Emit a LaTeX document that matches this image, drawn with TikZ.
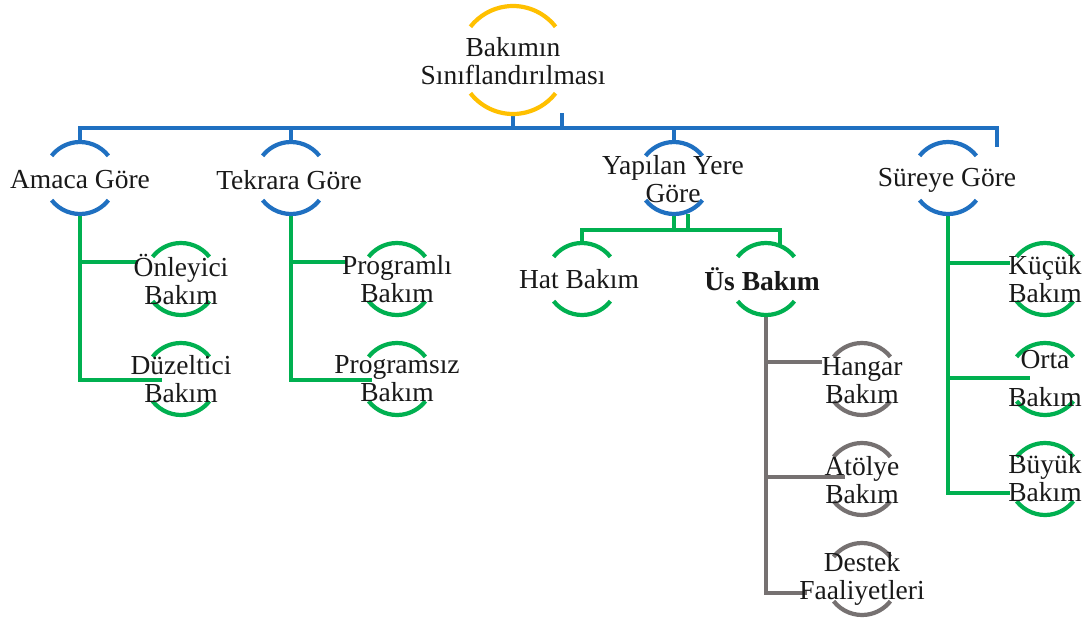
\documentclass[tikz,border=0pt]{standalone}
\usepackage{fontspec}
\setmainfont{Liberation Serif}
\definecolor{cblue}{HTML}{1F70C1}
\definecolor{cgreen}{HTML}{00B050}
\definecolor{cyellow}{HTML}{FFC000}
\definecolor{cgray}{HTML}{767171}
\newcommand\ringarcs[3]{%
  \draw[line width=4.2pt,draw=#2] (#1.38) arc[start angle=38,end angle=142,radius=#3];
  \draw[line width=4.2pt,draw=#2] (#1.218) arc[start angle=218,end angle=322,radius=#3];}
\begin{document}
\begin{tikzpicture}[x=1pt,y=1pt,
  ring/.style={circle, minimum size=#1, inner sep=0pt, outer sep=0pt},
  lbl/.style={align=center, inner sep=0pt, font=\fontsize{27.5}{28}\selectfont, text=black!90},
  wire/.style={line width=4.6pt, draw=#1}]
\useasboundingbox[fill=white] (0,0) rectangle (1091,-621);

% ring placeholders
\node[ring=108pt] (root) at (513,-60) {};
\node[ring=72pt] (amaca) at (80,-178) {};
\node[ring=72pt] (tekrara) at (291,-178) {};
\node[ring=72pt] (yapilan) at (674,-178) {};
\node[ring=72pt] (sure) at (948,-178) {};
\node[ring=72pt] (onl) at (181,-279) {};
\node[ring=72pt] (duz) at (181,-379) {};
\node[ring=72pt] (prg) at (397,-279) {};
\node[ring=72pt] (prs) at (397,-379) {};
\node[ring=72pt] (hat) at (582,-279) {};
\node[ring=72pt] (us) at (766,-279) {};
\node[ring=72pt] (kuc) at (1045,-279) {};
\node[ring=72pt] (orta) at (1045,-379) {};
\node[ring=72pt] (buy) at (1045,-479) {};
\node[ring=72pt] (hng) at (862,-379) {};
\node[ring=72pt] (atl) at (862,-479) {};
\node[ring=72pt] (dst) at (862,-579) {};

% coordinates
\coordinate (busR) at (997,-128);
\coordinate (busRend) at (997,-147);
\coordinate (rootstub) at (562,-113);
\coordinate (a1) at (138,-262);
\coordinate (a2) at (162,-380);
\coordinate (t1) at (347,-262);
\coordinate (t2) at (372,-380);
\coordinate (gbR) at (780,-230);
\coordinate (ystub) at (688,-214);
\coordinate (usTop) at (780,-246);
\coordinate (g1) at (822,-362);
\coordinate (g2) at (845,-477);
\coordinate (g3) at (807,-593);
\coordinate (s1) at (1010,-263);
\coordinate (s2) at (1030,-378);
\coordinate (s3) at (1010,-493);

% blue connectors
\draw[wire=cblue] (amaca.north) |- (busR) -- (busRend);
\draw[wire=cblue] (tekrara.north) -- (tekrara.north |- busR);
\draw[wire=cblue] (yapilan.north) -- (yapilan.north |- busR);
\draw[wire=cblue] (root.south) -- (root.south |- busR);
\draw[wire=cblue] (rootstub) -- (rootstub |- busR);

% green connectors
\draw[wire=cgreen] (amaca.south) |- (a2);
\draw[wire=cgreen] (amaca.south |- a1) -- (a1);
\draw[wire=cgreen] (tekrara.south) |- (t2);
\draw[wire=cgreen] (tekrara.south |- t1) -- (t1);
\draw[wire=cgreen] (yapilan.south) -- (yapilan.south |- gbR);
\draw[wire=cgreen] (ystub) -- (ystub |- gbR);
\draw[wire=cgreen] (hat.north) |- (gbR) -- (usTop);
\draw[wire=cgreen] (sure.south) |- (s3);
\draw[wire=cgreen] (sure.south |- s1) -- (s1);
\draw[wire=cgreen] (sure.south |- s2) -- (s2);

% gray connectors
\draw[wire=cgray] (us.south) |- (g3);
\draw[wire=cgray] (us.south |- g1) -- (g1);
\draw[wire=cgray] (us.south |- g2) -- (g2);

% arcs
\ringarcs{root}{cyellow}{54pt}
\ringarcs{amaca}{cblue}{36pt}
\ringarcs{tekrara}{cblue}{36pt}
\ringarcs{yapilan}{cblue}{36pt}
\ringarcs{sure}{cblue}{36pt}
\ringarcs{onl}{cgreen}{36pt}
\ringarcs{duz}{cgreen}{36pt}
\ringarcs{prg}{cgreen}{36pt}
\ringarcs{prs}{cgreen}{36pt}
\ringarcs{hat}{cgreen}{36pt}
\ringarcs{us}{cgreen}{36pt}
\ringarcs{kuc}{cgreen}{36pt}
\ringarcs{orta}{cgreen}{36pt}
\ringarcs{buy}{cgreen}{36pt}
\ringarcs{hng}{cgray}{36pt}
\ringarcs{atl}{cgray}{36pt}
\ringarcs{dst}{cgray}{36pt}

% labels
\node[lbl] (rootL) at (513,-61) {Bakımın\\Sınıflandırılması};
\node[lbl] (amacaL) at (80,-180) {Amaca Göre};
\node[lbl] (tekraraL) at (289,-180) {Tekrara Göre};
\node[lbl] (yapilanL) at (673,-179) {Yapılan Yere\\Göre};
\node[lbl] (sureL) at (947,-180) {Süreye Göre};
\node[lbl] (onlL) at (181,-279) {Önleyici\\Bakım};
\node[lbl] (duzL) at (181,-379) {Düzeltici\\Bakım};
\node[lbl] (prgL) at (397,-279) {Programlı\\Bakım};
\node[lbl] (prsL) at (397,-379) {Programsız\\Bakım};
\node[lbl] (hatL) at (579,-279) {Hat Bakım};
\node[lbl] (usL) at (762,-279) {\textbf{Üs Bakım}};
\node[lbl] (hngL) at (862,-381) {Hangar\\Bakım};
\node[lbl] (atlL) at (862,-480) {Atölye\\Bakım};
\node[lbl] (dstL) at (862,-579) {Destek\\Faaliyetleri};
\node[lbl] (kucL) at (1045,-279) {Küçük\\Bakım};
\node[lbl] (ortaL) at (1045,-379) {Orta\\[10pt]Bakım};
\node[lbl] (buyL) at (1045,-478) {Büyük\\Bakım};
\end{tikzpicture}
\end{document}
